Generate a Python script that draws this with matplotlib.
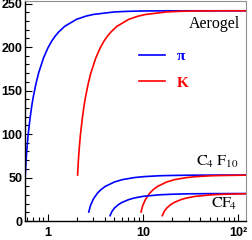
import matplotlib
matplotlib.use("Agg")
import matplotlib.pyplot as plt
from matplotlib.ticker import FixedLocator, LogLocator, MultipleLocator, NullFormatter

# momentum (GeV/c) and Cherenkov angle (mrad)
p_pi_aero = [0.58, 0.59, 0.6, 0.62, 0.65, 0.68, 0.7, 0.75, 0.8, 0.9, 1.0, 1.1, 1.2, 1.3,
             1.5, 2.0, 2.5, 3.0, 5.0, 7.0, 10.0, 20.0, 50.0, 120.0]
th_pi_aero = [52.9, 68.1, 79.9, 98.2, 118.0, 133.3, 141.6, 157.9, 170.2, 187.4, 198.9, 207.0,
              212.9, 217.4, 223.8, 231.9, 235.5, 237.5, 240.4, 241.1, 241.5, 241.7, 241.7, 241.7]

p_k_aero = [2.051, 2.087, 2.122, 2.193, 2.299, 2.405, 2.476, 2.652, 2.829, 3.183, 3.537, 3.89,
            4.244, 4.598, 5.305, 7.073, 8.842, 10.61, 17.68, 24.76, 35.37, 70.73, 120.0]
th_k_aero = [52.9, 68.1, 79.9, 98.2, 118.0, 133.3, 141.6, 157.9, 170.2, 187.4, 198.9, 207.0,
             212.9, 217.4, 223.8, 231.9, 235.5, 237.5, 240.4, 241.1, 241.5, 241.7, 241.7]

p_pi_c4f10 = [2.69, 2.8, 3.0, 3.3, 3.6, 4.0, 5.0, 6.0, 8.0, 10.0, 15.0, 20.0, 30.0, 50.0, 120.0]
th_pi_c4f10 = [10.4, 17.8, 25.2, 31.8, 36.0, 39.8, 44.9, 47.5, 49.9, 51.0, 52.1, 52.4, 52.7, 52.8, 52.9]

p_k_c4f10 = [9.513, 9.9, 10.61, 11.67, 12.73, 14.15, 17.68, 21.22, 28.29, 35.37, 53.05, 70.73, 120.0]
th_k_c4f10 = [10.4, 17.8, 25.2, 31.8, 36.0, 39.8, 44.9, 47.5, 49.9, 51.0, 52.1, 52.4, 52.75]

p_pi_cf4 = [4.5, 4.7, 5.0, 5.5, 6.0, 7.0, 8.0, 10.0, 15.0, 20.0, 30.0, 50.0, 120.0]
th_pi_cf4 = [6.2, 10.9, 14.9, 18.9, 21.4, 24.5, 26.4, 28.4, 30.2, 30.8, 31.3, 31.5, 31.6]

p_k_cf4 = [15.91, 16.62, 17.68, 19.45, 21.22, 24.76, 28.29, 35.37, 53.05, 70.73, 120.0]
th_k_cf4 = [6.2, 10.9, 14.9, 18.9, 21.4, 24.5, 26.4, 28.4, 30.2, 30.8, 31.35]

x_ticks = [1, 10, 100]
x_labels = ["1", "10", "10\u00b2"]

BLUE = "#0000ff"
RED = "#ff0000"

fig = plt.figure(figsize=(2.52, 2.40), dpi=100)
ax = fig.add_axes([0.099, 0.079, 0.877, 0.917])

lw = 1.2
ax.plot(p_pi_aero, th_pi_aero, color=BLUE, lw=lw, label="\u03c0")
ax.plot(p_k_aero, th_k_aero, color=RED, lw=lw, label="K")
ax.plot(p_pi_c4f10, th_pi_c4f10, color=BLUE, lw=lw)
ax.plot(p_k_c4f10, th_k_c4f10, color=RED, lw=lw)
ax.plot(p_pi_cf4, th_pi_cf4, color=BLUE, lw=lw)
ax.plot(p_k_cf4, th_k_cf4, color=RED, lw=lw)

ax.set_xscale("log")
ax.set_xlim(0.575, 120)
ax.set_ylim(0, 253)

ax.xaxis.set_major_locator(FixedLocator(x_ticks))
ax.set_xticklabels(x_labels)
ax.xaxis.set_minor_locator(LogLocator(base=10, subs=range(2, 10)))
ax.xaxis.set_minor_formatter(NullFormatter())
ax.yaxis.set_major_locator(MultipleLocator(50))
ax.yaxis.set_minor_locator(MultipleLocator(10))

ax.tick_params(which="both", direction="in", top=False, right=False, width=0.8, colors="black")
ax.tick_params(which="major", length=5)
ax.tick_params(which="minor", length=3)
ax.tick_params(axis="x", pad=4)
ax.tick_params(axis="y", pad=2)
for lab in ax.get_xticklabels() + ax.get_yticklabels():
    lab.set_fontfamily("Liberation Sans")
    lab.set_fontweight("bold")
    lab.set_fontsize(9)

for s in ["left", "bottom"]:
    ax.spines[s].set_color("black")
    ax.spines[s].set_linewidth(1.0)
for s in ["top", "right"]:
    ax.spines[s].set_color("#909090")
    ax.spines[s].set_linewidth(0.8)

serif = "Liberation Serif"
ax.text(104, 222, "Aerogel", ha="right", va="baseline", fontfamily=serif, fontsize=11.5)
ax.text(36, 63.7, r"$\mathrm{C}_{4}\;\mathrm{F}_{10}$", ha="left", va="baseline",
        fontsize=11.5, math_fontfamily="stix")
ax.text(52, 14.6, r"$\mathrm{CF}_{\!4}$", ha="left", va="baseline",
        fontsize=11.5, math_fontfamily="stix")

leg = ax.legend(loc="upper left", bbox_to_anchor=(0.518, 0.78), frameon=False,
                borderpad=0, borderaxespad=0, handlelength=1.7, handletextpad=0.75,
                labelspacing=0.85, labelcolor="linecolor",
                prop={"family": serif, "size": 11, "weight": "bold"})

fig.savefig("out.png", dpi=100)
